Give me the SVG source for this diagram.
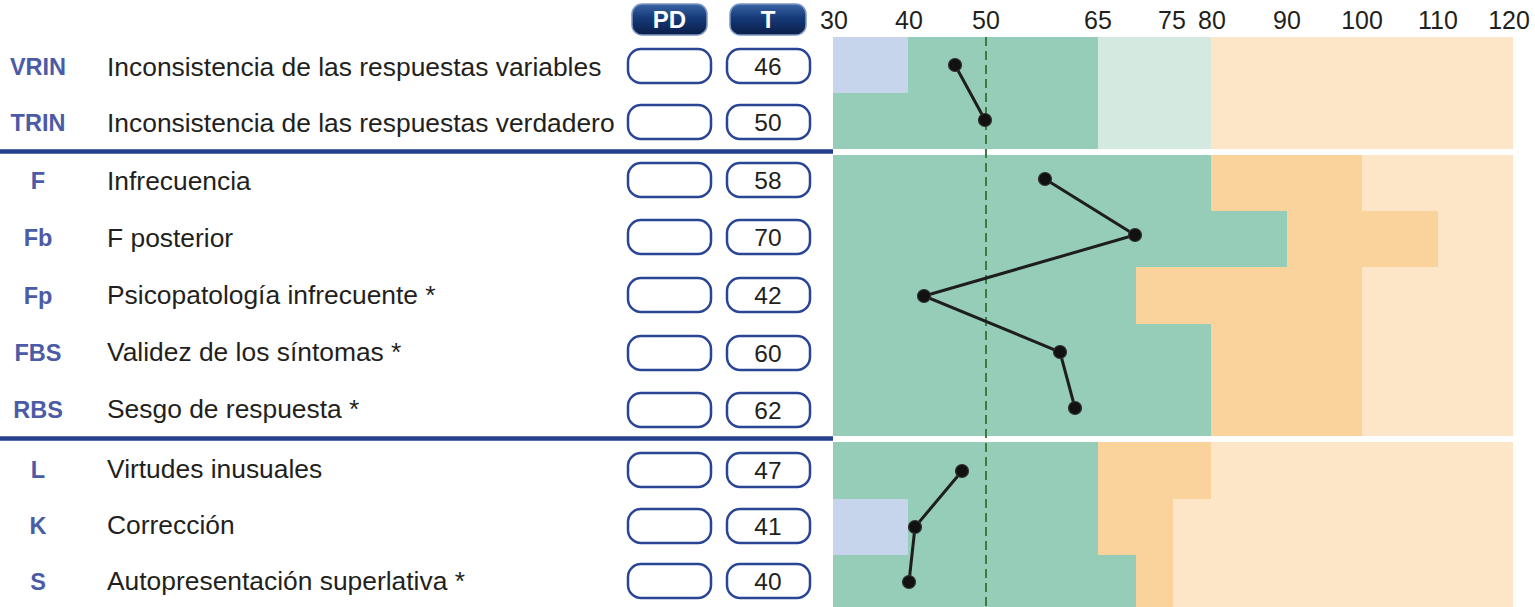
<svg xmlns="http://www.w3.org/2000/svg" width="1535" height="607" viewBox="0 0 1535 607">
<defs>
<linearGradient id="btn" x1="0" y1="0" x2="0" y2="1">
<stop offset="0" stop-color="#3a64a4"/>
<stop offset="0.45" stop-color="#163a78"/>
<stop offset="1" stop-color="#0a1d48"/>
</linearGradient>
<style>
.code{font-family:"Liberation Sans",Arial,sans-serif;font-weight:bold;font-size:23.5px;fill:#4b5ba6;text-anchor:middle}
.desc{font-family:"Liberation Sans",Arial,sans-serif;font-size:26.4px;fill:#231f20}
.val{font-family:"Liberation Sans",Arial,sans-serif;font-size:24.5px;fill:#231f20;text-anchor:middle}
.axis{font-family:"Liberation Sans",Arial,sans-serif;font-size:25px;fill:#231f20;text-anchor:middle}
.btnt{font-family:"Liberation Sans",Arial,sans-serif;font-weight:bold;font-size:24px;fill:#ffffff;text-anchor:middle}
.box{fill:#ffffff;stroke:#2b4595;stroke-width:2.5}
.btn{fill:url(#btn);stroke:#7f97c4;stroke-width:1.5}
.sep{stroke:#253f8f;stroke-width:4.5}
.bl{fill:#c6d5ec}.gr{fill:#95cdb9}.pg{fill:#d4eae1}.or{fill:#fad39c}.lo{fill:#fde6c8}
.pt{fill:#111111;stroke:#333333;stroke-width:1.2}
.prof{fill:none;stroke:#1e1e1e;stroke-width:3}
</style>
</defs>
<rect x="0" y="0" width="1535" height="607" fill="#ffffff"/>

<g id="header">
<rect class="btn" x="632" y="4" width="75" height="31" rx="10"/>
<text class="btnt" x="669.5" y="28">PD</text>
<rect class="btn" x="730" y="4" width="76" height="31" rx="10"/>
<text class="btnt" x="768" y="28">T</text>
<text class="axis" x="834" y="29">30</text>
<text class="axis" x="909" y="29">40</text>
<text class="axis" x="986" y="29">50</text>
<text class="axis" x="1098" y="29">65</text>
<text class="axis" x="1172" y="29">75</text>
<text class="axis" x="1212" y="29">80</text>
<text class="axis" x="1287" y="29">90</text>
<text class="axis" x="1362" y="29">100</text>
<text class="axis" x="1438" y="29">110</text>
<text class="axis" x="1509" y="29">120</text>
</g>

<g id="bands">
<rect class="bl" x="833" y="37" width="75" height="56"/>
<rect class="gr" x="908" y="37" width="190" height="56"/>
<rect class="pg" x="1098" y="37" width="113" height="112"/>
<rect class="lo" x="1211" y="37" width="302" height="112"/>
<rect class="gr" x="833" y="93" width="265" height="56"/>

<rect class="gr" x="833" y="155" width="378" height="56"/>
<rect class="or" x="1211" y="155" width="151" height="56"/>
<rect class="lo" x="1362" y="155" width="151" height="56"/>
<rect class="gr" x="833" y="211" width="454" height="56"/>
<rect class="or" x="1287" y="211" width="151" height="56"/>
<rect class="lo" x="1438" y="211" width="75" height="56"/>
<rect class="gr" x="833" y="267" width="303" height="57"/>
<rect class="or" x="1136" y="267" width="226" height="57"/>
<rect class="lo" x="1362" y="267" width="151" height="169"/>
<rect class="gr" x="833" y="324" width="378" height="112"/>
<rect class="or" x="1211" y="324" width="151" height="112"/>

<rect class="gr" x="833" y="442" width="265" height="57"/>
<rect class="or" x="1098" y="442" width="113" height="57"/>
<rect class="lo" x="1211" y="442" width="302" height="57"/>
<rect class="bl" x="833" y="499" width="75" height="56"/>
<rect class="gr" x="908" y="499" width="190" height="56"/>
<rect class="or" x="1098" y="499" width="75" height="56"/>
<rect class="lo" x="1173" y="499" width="340" height="108"/>
<rect class="gr" x="833" y="555" width="303" height="52"/>
<rect class="or" x="1136" y="555" width="37" height="52"/>

<line x1="986" y1="37" x2="986" y2="607" stroke="#3b7d3f" stroke-width="2" stroke-dasharray="9 5"/>
<line class="sep" x1="0" y1="151.5" x2="833" y2="151.5"/>
<line class="sep" x1="0" y1="438.5" x2="833" y2="438.5"/>
</g>

<g id="row-VRIN">
<text class="code" x="38" y="75">VRIN</text>
<text class="desc" x="107" y="76">Inconsistencia de las respuestas variables</text>
<rect class="box" x="628" y="49" width="83" height="34" rx="13"/>
<rect class="box" x="727" y="49" width="83" height="34" rx="13"/>
<text class="val" x="768" y="75">46</text>
</g>
<g id="row-TRIN">
<text class="code" x="38" y="131">TRIN</text>
<text class="desc" x="107" y="132">Inconsistencia de las respuestas verdadero</text>
<rect class="box" x="628" y="105" width="83" height="34" rx="13"/>
<rect class="box" x="727" y="105" width="83" height="34" rx="13"/>
<text class="val" x="768" y="131">50</text>
</g>
<g id="row-F">
<text class="code" x="38" y="189">F</text>
<text class="desc" x="107" y="190">Infrecuencia</text>
<rect class="box" x="628" y="163" width="83" height="34" rx="13"/>
<rect class="box" x="727" y="163" width="83" height="34" rx="13"/>
<text class="val" x="768" y="189">58</text>
</g>
<g id="row-Fb">
<text class="code" x="38" y="246">Fb</text>
<text class="desc" x="107" y="247">F posterior</text>
<rect class="box" x="628" y="220" width="83" height="34" rx="13"/>
<rect class="box" x="727" y="220" width="83" height="34" rx="13"/>
<text class="val" x="768" y="246">70</text>
</g>
<g id="row-Fp">
<text class="code" x="38" y="304">Fp</text>
<text class="desc" x="107" y="304">Psicopatología infrecuente *</text>
<rect class="box" x="628" y="278" width="83" height="34" rx="13"/>
<rect class="box" x="727" y="278" width="83" height="34" rx="13"/>
<text class="val" x="768" y="304">42</text>
</g>
<g id="row-FBS">
<text class="code" x="38" y="361">FBS</text>
<text class="desc" x="107" y="361">Validez de los síntomas *</text>
<rect class="box" x="628" y="336" width="83" height="34" rx="13"/>
<rect class="box" x="727" y="336" width="83" height="34" rx="13"/>
<text class="val" x="768" y="362">60</text>
</g>
<g id="row-RBS">
<text class="code" x="38" y="418">RBS</text>
<text class="desc" x="107" y="418">Sesgo de respuesta *</text>
<rect class="box" x="628" y="393" width="83" height="34" rx="13"/>
<rect class="box" x="727" y="393" width="83" height="34" rx="13"/>
<text class="val" x="768" y="419">62</text>
</g>
<g id="row-L">
<text class="code" x="38" y="478">L</text>
<text class="desc" x="107" y="478">Virtudes inusuales</text>
<rect class="box" x="628" y="453" width="83" height="34" rx="13"/>
<rect class="box" x="727" y="453" width="83" height="34" rx="13"/>
<text class="val" x="768" y="479">47</text>
</g>
<g id="row-K">
<text class="code" x="38" y="534">K</text>
<text class="desc" x="107" y="534">Corrección</text>
<rect class="box" x="628" y="509" width="83" height="34" rx="13"/>
<rect class="box" x="727" y="509" width="83" height="34" rx="13"/>
<text class="val" x="768" y="535">41</text>
</g>
<g id="row-S">
<text class="code" x="38" y="590">S</text>
<text class="desc" x="107" y="590">Autopresentación superlativa *</text>
<rect class="box" x="628" y="564" width="83" height="34" rx="13"/>
<rect class="box" x="727" y="564" width="83" height="34" rx="13"/>
<text class="val" x="768" y="590">40</text>
</g>

<g id="connectors">
<polyline class="prof" points="955,65 985,120"/>
<polyline class="prof" points="1045,179 1135,235 924,296 1060,352 1075,408"/>
<polyline class="prof" points="962,471 915,527 909,582"/>
</g>
<g id="points">
<circle class="pt" cx="955" cy="65" r="6.5"/>
<circle class="pt" cx="985" cy="120" r="6.5"/>
<circle class="pt" cx="1045" cy="179" r="6.5"/>
<circle class="pt" cx="1135" cy="235" r="6.5"/>
<circle class="pt" cx="924" cy="296" r="6.5"/>
<circle class="pt" cx="1060" cy="352" r="6.5"/>
<circle class="pt" cx="1075" cy="408" r="6.5"/>
<circle class="pt" cx="962" cy="471" r="6.5"/>
<circle class="pt" cx="915" cy="527" r="6.5"/>
<circle class="pt" cx="909" cy="582" r="6.5"/>
</g>
</svg>
